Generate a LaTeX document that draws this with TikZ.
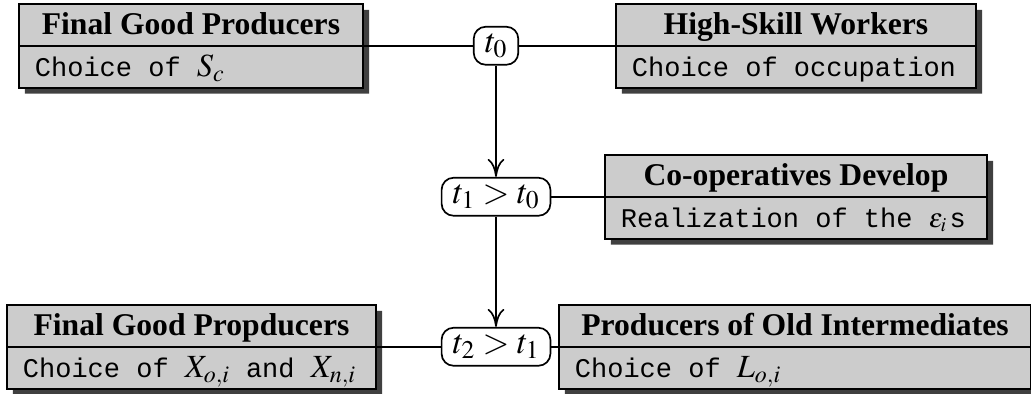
\documentclass[tikz,border=0pt]{standalone}
\usepackage{mathptmx}
\usepackage{fontspec}
\setmainfont{Liberation Serif}
\setmonofont{Liberation Mono}
\usetikzlibrary{shapes.multipart,shadows,arrows.meta}
\newcommand{\boxhead}[2]{\makebox[#1][c]{\rule[-0.25cm]{0pt}{1cm}\fontsize{22.5}{27}\selectfont\bfseries #2}}
\newcommand{\boxtext}[2]{\makebox[#1][l]{\rule[-0.25cm]{0pt}{1cm}\fontsize{19.2}{23}\selectfont\ttfamily #2}}
\newcommand{\boxmath}[1]{{\fontsize{23}{27}\selectfont$#1$}}
\begin{document}
\begin{tikzpicture}[x=0.025cm, y=-0.025cm,
    agent/.style={draw, line width=1.3pt, fill=black!20, rectangle split, rectangle split parts=2,
      inner xsep=0.4cm, inner ysep=0pt, anchor=north west,
      drop shadow={shadow xshift=0.15cm, shadow yshift=-0.15cm, fill=black!75, opacity=1}},
    stage/.style={draw, line width=1.2pt, fill=white, rounded corners=0.3cm, inner xsep=0.28cm,
      minimum height=0.95cm, font=\fontsize{24.5}{29}\selectfont},
    link/.style={line width=1.2pt},
    step arrow/.style={line width=1.2pt, -{To[length=0.45cm,width=0.42cm]}}]
  \useasboundingbox (0,0) rectangle (1031,394);
  \node[agent] (fgp) at (18,3) {\boxhead{7.8cm}{Final Good Producers}\nodepart{two}\boxtext{7.8cm}{Choice of \boxmath{S_c}}};
  \node[agent] (hsw) at (615,3) {\boxhead{8.2cm}{High-Skill Workers}\nodepart{two}\boxtext{8.2cm}{Choice of occupation}};
  \node[agent] (coop) at (604,154) {\boxhead{8.75cm}{Co-operatives Develop}\nodepart{two}\boxtext{8.75cm}{Realization of the $\varepsilon_i$\kern2pt s}};
  \node[agent] (fgp2) at (6,304) {\boxhead{8.425cm}{Final Good Propducers}\nodepart{two}\boxtext{8.425cm}{Choice of \boxmath{X_{o,i}} and \boxmath{X_{n,i}}}};
  \node[agent] (poi) at (558,304) {\boxhead{11cm}{Producers of Old Intermediates}\nodepart{two}\boxtext{11cm}{Choice of \boxmath{L_{o,i}}}};
  \coordinate (axis) at (496,0);
  \node[stage] (t0) at (axis |- fgp.east) {$t_0$};
  \node[stage] (t1) at (axis |- coop.west) {$t_1>t_0$};
  \node[stage] (t2) at (axis |- fgp2.east) {$t_2>t_1$};
  \draw[link] (fgp.east) -- (t0.west);
  \draw[link] (t0.east) -- (hsw.west);
  \draw[link] (t1.east) -- (coop.west);
  \draw[link] (fgp2.east) -- (t2.west);
  \draw[link] (t2.east) -- (poi.west);
  \draw[step arrow] (t0) -- (t1);
  \draw[step arrow] (t1) -- (t2);
\end{tikzpicture}
\end{document}
